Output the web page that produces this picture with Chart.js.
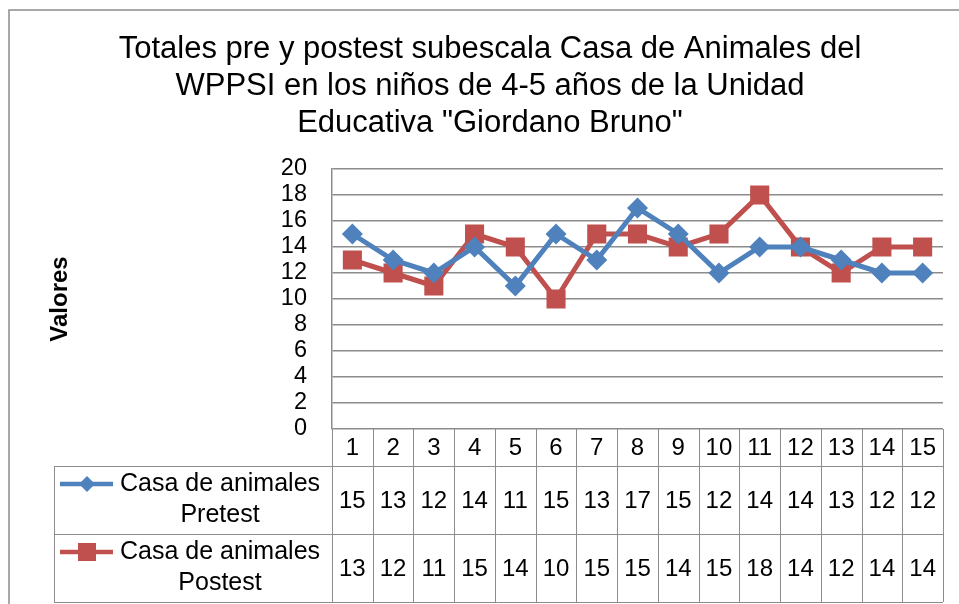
<!DOCTYPE html>
<html lang="es">
  <head>
    <meta charset="UTF-8" />
    <title>Totales pre y postest subescala Casa de Animales</title>
    <script src="https://cdn.jsdelivr.net/npm/chart.js"></script>
    <style>
      html, body { margin: 0; padding: 0; background: #fff; }
      canvas { display: block; }
    </style>
  </head>
  <body>
    <canvas id="chart" width="959" height="604"></canvas>

    <script>
      // Data
      const categories = ['1', '2', '3', '4', '5', '6', '7', '8', '9', '10', '11', '12', '13', '14', '15'];
      const pretest = [15, 13, 12, 14, 11, 15, 13, 17, 15, 12, 14, 14, 13, 12, 12];
      const postest = [13, 12, 11, 15, 14, 10, 15, 15, 14, 15, 18, 14, 12, 14, 14];
      const seriesNames = [['Casa de animales', 'Pretest'], ['Casa de animales', 'Postest']];
      const titleLines = [
        'Totales pre y postest subescala Casa de Animales del',
        'WPPSI en los niños de 4-5 años de la Unidad',
        'Educativa "Giordano Bruno"'
      ];

      const BLUE = '#4F81BD';
      const RED = '#C0504D';
      const GRID = '#8c8c8c';
      const FONT = '"Liberation Sans", Arial, sans-serif';

      // title, outer frame and the data table under the plot
      const decor = {
        id: 'decor',
        afterDraw(chart) {
          const ctx = chart.ctx;
          const x = chart.scales.x;
          const area = chart.chartArea;
          ctx.save();

          // outer frame
          ctx.strokeStyle = GRID;
          ctx.lineWidth = 1.5;
          ctx.strokeRect(9, 10, 1000, 700);

          // title
          ctx.fillStyle = '#000';
          ctx.font = '31px ' + FONT;
          ctx.textAlign = 'center';
          ctx.textBaseline = 'middle';
          titleLines.forEach((t, i) => ctx.fillText(t, 490, 49 + i * 37));

          // table
          const half = (x.getPixelForValue(1) - x.getPixelForValue(0)) / 2;
          const top = area.bottom;
          const headBottom = top + 37;
          const rowH = 68;
          const tableLeft = 54;
          const tableRight = area.right;
          const bottom = headBottom + rowH * 2;

          ctx.strokeStyle = GRID;
          ctx.lineWidth = 1;
          ctx.beginPath();
          [headBottom, headBottom + rowH, bottom].forEach(yy => {
            ctx.moveTo(tableLeft, yy + 0.5);
            ctx.lineTo(tableRight, yy + 0.5);
          });
          categories.forEach((c, i) => {
            const cx = x.getPixelForValue(i) - half;
            ctx.moveTo(Math.round(cx) + 0.5, top);
            ctx.lineTo(Math.round(cx) + 0.5, bottom);
          });
          ctx.moveTo(tableRight + 0.5, top);
          ctx.lineTo(tableRight + 0.5, bottom);
          ctx.moveTo(tableLeft + 0.5, headBottom);
          ctx.lineTo(tableLeft + 0.5, bottom);
          ctx.stroke();

          // cell texts
          ctx.fillStyle = '#000';
          ctx.font = '24px ' + FONT;
          ctx.textAlign = 'center';
          ctx.textBaseline = 'middle';
          categories.forEach((c, i) => {
            const cx = x.getPixelForValue(i);
            ctx.fillText(c, cx, (top + headBottom) / 2 + 1);
            ctx.fillText(String(pretest[i]), cx, headBottom + rowH / 2 + 1);
            ctx.fillText(String(postest[i]), cx, headBottom + rowH * 1.5 + 1);
          });

          // legend keys in the row headers
          const colors = [BLUE, RED];
          ctx.font = '25px ' + FONT;
          seriesNames.forEach((lines, r) => {
            const rowTop = headBottom + rowH * r;
            const ly = rowTop + 18;
            ctx.strokeStyle = colors[r];
            ctx.lineWidth = 4.5;
            ctx.beginPath();
            ctx.moveTo(60, ly);
            ctx.lineTo(113, ly);
            ctx.stroke();
            ctx.fillStyle = colors[r];
            ctx.beginPath();
            if (r === 0) {
              ctx.moveTo(87, ly - 8);
              ctx.lineTo(95, ly);
              ctx.lineTo(87, ly + 8);
              ctx.lineTo(79, ly);
              ctx.closePath();
            } else {
              ctx.rect(78, ly - 9, 18, 18);
            }
            ctx.fill();
            ctx.fillStyle = '#000';
            ctx.fillText(lines[0], 220, ly);
            ctx.fillText(lines[1], 220, ly + 31);
          });

          ctx.restore();
        }
      };

      new Chart(document.getElementById('chart'), {
        type: 'line',
        data: {
          labels: categories,
          datasets: [
            {
              label: 'Casa de animales Pretest',
              data: pretest,
              borderColor: BLUE,
              backgroundColor: BLUE,
              borderWidth: 5,
              pointStyle: 'rectRot',
              pointRadius: 10.5,
              pointHoverRadius: 10.5,
              pointBorderWidth: 0,
              tension: 0
            },
            {
              label: 'Casa de animales Postest',
              data: postest,
              borderColor: RED,
              backgroundColor: RED,
              borderWidth: 5,
              pointStyle: 'rect',
              pointRadius: 13.5,
              pointHoverRadius: 13.5,
              pointBorderWidth: 0,
              tension: 0
            }
          ]
        },
        options: {
          responsive: false,
          animation: false,
          layout: { padding: { left: 0, top: 169, right: 16, bottom: 175 } },
          plugins: {
            legend: { display: false },
            tooltip: { enabled: false },
            title: { display: false }
          },
          scales: {
            x: {
              display: false,
              offset: true
            },
            y: {
              min: 0,
              max: 20,
              ticks: {
                stepSize: 2,
                autoSkip: false,
                color: '#000',
                padding: 25,
                font: { family: FONT, size: 23.5 }
              },
              grid: {
                color: GRID,
                lineWidth: 1.5,
                drawTicks: false,
                tickLength: 0
              },
              border: { color: GRID, width: 1.5 },
              title: {
                display: true,
                text: 'Valores',
                color: '#000',
                font: { family: FONT, size: 24, weight: 'bold' },
                padding: { top: 46, bottom: 0 }
              },
              afterFit(scale) { scale.width = 332; }
            }
          }
        },
        plugins: [decor]
      });
    </script>
  </body>
</html>
